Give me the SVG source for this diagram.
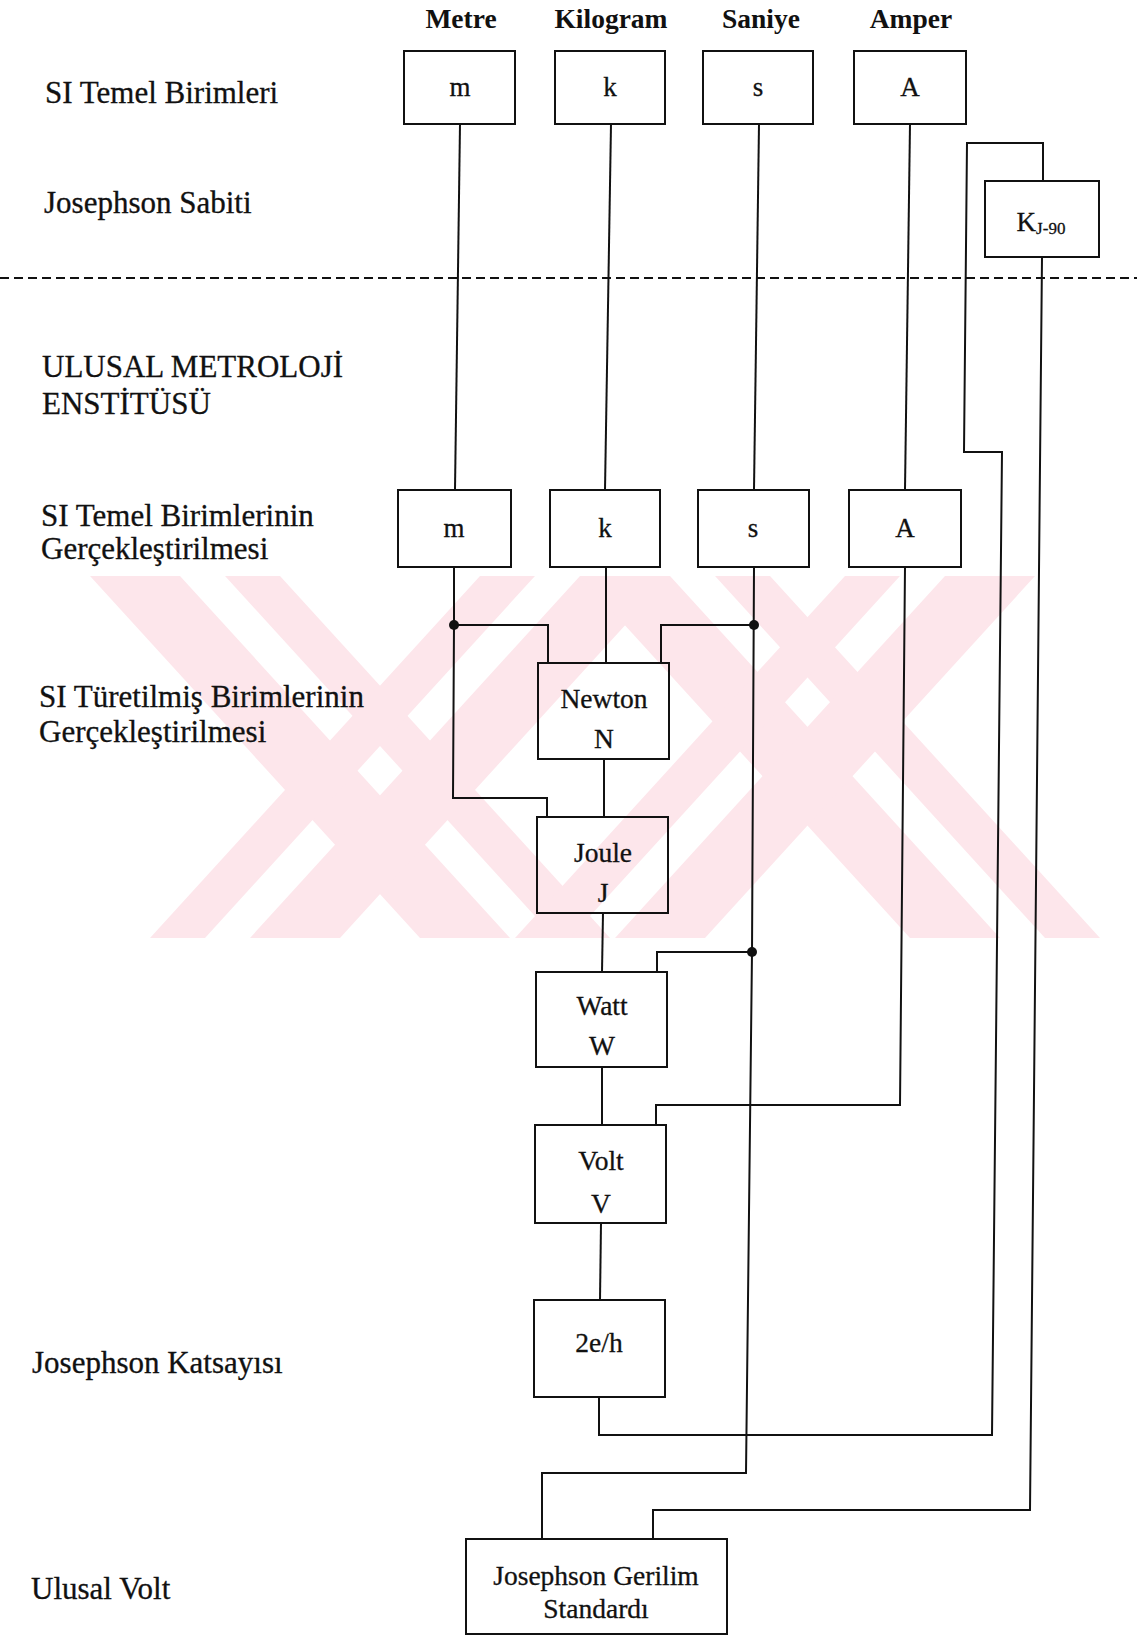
<svg xmlns="http://www.w3.org/2000/svg" width="1137" height="1637" viewBox="0 0 1137 1637">
<style>
.bg{fill:#ffffff}
.wm{fill:#fde6eb}
.box{fill:none;stroke:#111;stroke-width:2}
.ln{fill:none;stroke:#111;stroke-width:2}
.dash{fill:none;stroke:#111;stroke-width:2;stroke-dasharray:9 5}
.dot{fill:#111}
.lbl{font-family:"Liberation Serif","Times New Roman",serif;font-size:31px;fill:#111;stroke:#111;stroke-width:0.3}
.hdr{font-family:"Liberation Serif","Times New Roman",serif;font-size:27.5px;font-weight:bold;fill:#111;text-anchor:middle}
.bt{font-family:"Liberation Serif","Times New Roman",serif;font-size:27.5px;fill:#111;text-anchor:middle;stroke:#111;stroke-width:0.3}
.let{font-family:"Liberation Serif","Times New Roman",serif;font-size:27px;fill:#111;text-anchor:middle;stroke:#111;stroke-width:0.3}
</style>
<rect class="bg" x="0" y="0" width="1137" height="1637"/>
<g id="watermark">
<polygon class="wm" points="90,576 180,576 510,938 420,938"/>
<polygon class="wm" points="225,576 280,576 610,938 555,938"/>
<polygon class="wm" points="480,576 535,576 205,938 150,938"/>
<polygon class="wm" points="580,576 670,576 340,938 250,938"/>
<polygon class="wm" points="580,576 670,576 1000,938 910,938"/>
<polygon class="wm" points="715,576 770,576 1100,938 1045,938"/>
<polygon class="wm" points="845,576 900,576 570,938 515,938"/>
<polygon class="wm" points="945,576 1035,576 705,938 615,938"/>
</g>
<g id="labels">
<text class="lbl" x="45" y="103">SI Temel Birimleri</text>
<text class="lbl" x="44" y="213">Josephson Sabiti</text>
<text class="lbl" x="42" y="377">ULUSAL METROLOJİ</text>
<text class="lbl" x="42" y="414">ENSTİTÜSÜ</text>
<text class="lbl" x="41" y="526">SI Temel Birimlerinin</text>
<text class="lbl" x="41" y="559">Gerçekleştirilmesi</text>
<text class="lbl" x="39" y="707">SI Türetilmiş Birimlerinin</text>
<text class="lbl" x="39" y="742">Gerçekleştirilmesi</text>
<text class="lbl" x="32" y="1373">Josephson Katsayısı</text>
<text class="lbl" x="31" y="1599">Ulusal Volt</text>
<text class="hdr" x="461" y="28">Metre</text>
<text class="hdr" x="611" y="28">Kilogram</text>
<text class="hdr" x="761" y="28">Saniye</text>
<text class="hdr" x="911" y="28">Amper</text>
</g>
<line class="dash" x1="0" y1="278" x2="1137" y2="278"/>
<g id="connectors">
<path class="ln" d="M460,124 L455,490"/>
<path class="ln" d="M611,124 L605,490"/>
<path class="ln" d="M759,124 L754,490"/>
<path class="ln" d="M910,124 L905,490"/>
<path class="ln" d="M454,567 L454,625 L453,798 L547,798 L547,817"/>
<path class="ln" d="M454,625 L548,625 L548,663"/>
<path class="ln" d="M606,567 L606,663"/>
<path class="ln" d="M754,567 L752,952 L746,1473 L542,1473 L542,1539"/>
<path class="ln" d="M754,625 L661,625 L661,663"/>
<path class="ln" d="M752,952 L657,952 L657,972"/>
<path class="ln" d="M604,759 L604,817"/>
<path class="ln" d="M603,913 L602,972"/>
<path class="ln" d="M602,1067 L602,1125"/>
<path class="ln" d="M601,1223 L600,1300"/>
<path class="ln" d="M905,567 L900,1105 L656,1105 L656,1125"/>
<path class="ln" d="M599,1397 L599,1435 L992,1435 L1002,452 L964,452 L967,143 L1043,143 L1043,181"/>
<path class="ln" d="M1042,257 L1030,1510 L653,1510 L653,1539"/>
<circle class="dot" cx="454" cy="625" r="5"/>
<circle class="dot" cx="754" cy="625" r="5"/>
<circle class="dot" cx="752" cy="952" r="5"/>
</g>
<g id="node-m1"><rect class="box" x="404" y="51" width="111" height="73"/><text class="let" x="460" y="96">m</text></g>
<g id="node-k1"><rect class="box" x="555" y="51" width="110" height="73"/><text class="let" x="610" y="96">k</text></g>
<g id="node-s1"><rect class="box" x="703" y="51" width="110" height="73"/><text class="let" x="758" y="96">s</text></g>
<g id="node-A1"><rect class="box" x="854" y="51" width="112" height="73"/><text class="let" x="910" y="96">A</text></g>
<g id="node-kj90"><rect class="box" x="985" y="181" width="114" height="76"/><text class="let" x="1041" y="231" font-size="28">K<tspan font-size="17" dy="3">J-90</tspan></text></g>
<g id="node-m2"><rect class="box" x="398" y="490" width="113" height="77"/><text class="let" x="454" y="537">m</text></g>
<g id="node-k2"><rect class="box" x="550" y="490" width="110" height="77"/><text class="let" x="605" y="537">k</text></g>
<g id="node-s2"><rect class="box" x="698" y="490" width="111" height="77"/><text class="let" x="753" y="537">s</text></g>
<g id="node-A2"><rect class="box" x="849" y="490" width="112" height="77"/><text class="let" x="905" y="537">A</text></g>
<g id="node-newton"><rect class="box" x="538" y="663" width="131" height="96"/><text class="bt" x="604" y="708">Newton</text><text class="bt" x="604" y="748">N</text></g>
<g id="node-joule"><rect class="box" x="537" y="817" width="131" height="96"/><text class="bt" x="603" y="862">Joule</text><text class="bt" x="603" y="902">J</text></g>
<g id="node-watt"><rect class="box" x="536" y="972" width="131" height="95"/><text class="bt" x="602" y="1015">Watt</text><text class="bt" x="602" y="1055">W</text></g>
<g id="node-volt"><rect class="box" x="535" y="1125" width="131" height="98"/><text class="bt" x="601" y="1170">Volt</text><text class="bt" x="601" y="1213">V</text></g>
<g id="node-2eh"><rect class="box" x="534" y="1300" width="131" height="97"/><text class="bt" x="599" y="1352">2e/h</text></g>
<g id="node-jgs"><rect class="box" x="466" y="1539" width="261" height="95"/><text class="bt" x="596" y="1585">Josephson Gerilim</text><text class="bt" x="596" y="1618">Standardı</text></g>
</svg>
